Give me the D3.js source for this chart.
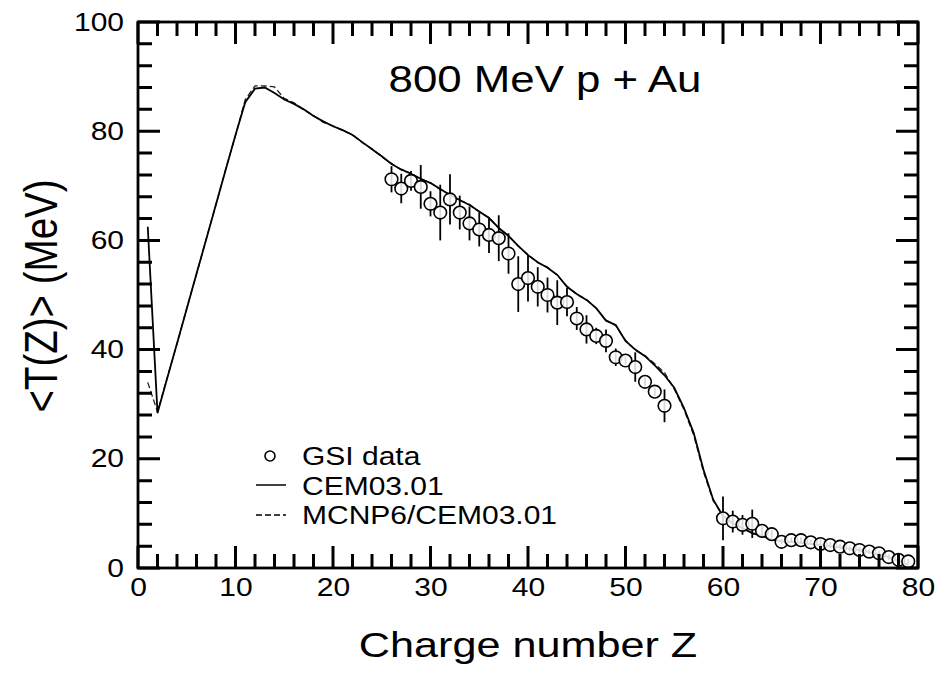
<!DOCTYPE html>
<html><head><meta charset="utf-8">
<script src="https://cdn.jsdelivr.net/npm/d3@7"></script>
</head>
<body style="margin:0;background:#fff">
<svg id="chart" width="950" height="676"></svg>
<script>
// ---- data ----
const gsiZ = [26,27,28,29,30,31,32,33,34,35,36,37,38,39,40,41,42,43,44,45,46,47,48,49,50,51,52,53,54,
              60,61,62,63,64,65,66,67,68,69,70,71,72,73,74,75,76,77,78,79];
const gsiT = [71.2,69.5,70.9,69.8,66.7,65.1,67.5,65.1,63.1,62.0,61.0,60.4,57.6,52.0,53.1,51.5,50.0,48.6,48.7,45.7,43.7,42.5,41.6,38.6,38.0,36.8,34.1,32.3,29.7,
              9.1,8.5,7.9,8.1,6.8,6.2,4.8,5.1,5.1,4.7,4.4,4.2,3.9,3.6,3.3,3.0,2.7,2.0,1.5,1.2];
const gsiErr = [2.4,2.7,1.8,4.0,2.3,5.1,4.6,3.1,3.1,3.1,3.3,4.2,3.7,5.1,4.3,3.6,3.2,4.1,2.6,2.1,2.6,1.5,2.1,1.6,0.8,2.7,0.8,0.8,3.0,
              4.0,2.0,1.8,2.6,0.8,0.8,0.5,0.5,0.6,0.5,0.8,0.5,0.5,0.5,0.5,0.5,0.5,0.5,0.5,0.5];

const modelZ = [1,2,3,4,5,6,7,8,9,10,11,12,13,14,15,16,17,18,19,20,21,22,23,24,25,26,27,28,29,30,
                31,32,33,34,35,36,37,38,39,40,41,42,43,44,45,46,47,48,49,50,51,52,53,54,55,56,57,58,59,60,
                61,62,63,64,65,66,67,68,69,70,71,72,73,74,75,76,77,78,79];
const cemT = [62.5,28.4,34.8,41.1,47.5,53.9,60.2,66.6,73.0,79.3,85.3,87.8,88.0,87.0,85.8,85.0,84.0,82.8,81.8,80.9,80.2,79.3,78.0,76.7,75.4,74.0,73.0,72.2,71.3,70.5,
              69.4,68.3,67.4,66.5,65.3,64.1,62.3,60.8,59.0,57.3,56.0,55.0,53.7,51.5,50.2,49.1,47.6,45.3,44.5,41.6,40.0,38.8,37.1,35.3,33.0,29.3,24.7,18.0,12.5,9.5,
              8.2,7.3,6.4,5.9,5.2,4.9,4.8,4.6,4.4,4.2,4.0,3.8,3.5,3.3,2.9,2.5,2.0,1.3,0.6];
const mcnpT = [34.0,28.6,34.9,41.0,47.6,53.8,60.3,66.5,73.1,79.2,85.8,88.3,88.3,88.1,86.0,85.2,83.9,82.9,81.6,81.0,80.1,79.4,77.9,76.8,75.3,74.1,72.9,72.3,71.2,70.6,
               69.3,68.4,67.3,66.6,65.2,64.2,62.2,60.9,58.9,57.4,55.9,55.1,53.6,51.6,50.1,49.2,47.5,45.4,44.4,41.7,39.9,38.9,37.4,35.8,32.8,29.0,24.3,17.6,12.3,9.6,
               8.1,7.4,6.3,6.0,5.1,5.0,4.7,4.7,4.3,4.2,4.0,3.7,3.5,3.2,2.9,2.4,2.0,1.2,0.6];

const xTickLabels = [0,10,20,30,40,50,60,70,80];
const yTickLabels = [0,20,40,60,80,100];
const title = "800 MeV p + Au";
const xTitle = "Charge number Z";
const yTitle = "<T(Z)> (MeV)";
const legendLabels = ["GSI data","CEM03.01","MCNP6/CEM03.01"];

// ---- layout ----
const FONT = "Liberation Sans, Arial, sans-serif";
const svg = d3.select("#chart");
const L=138, R=918, TOP=22, BOT=568;
const x = d3.scaleLinear().domain([0,80]).range([L,R]);
const y = d3.scaleLinear().domain([0,100]).range([BOT,TOP]);
const SX = 1.2;
const majLen=22, minLen=14;

// ---- tick labels ----
const xAxis = svg.append("g").attr("transform",`translate(0,${BOT})`)
  .call(d3.axisBottom(x).tickValues(xTickLabels).tickSize(0).tickPadding(10));
const yAxis = svg.append("g").attr("transform",`translate(${L},0)`)
  .call(d3.axisLeft(y).tickValues(yTickLabels).tickSize(0).tickPadding(14));
[xAxis,yAxis].forEach(a=>{a.select(".domain").remove();
  a.selectAll(".tick line").remove();
  a.selectAll("text").attr("font-size",25).attr("font-family",FONT).attr("fill","#000");});
xAxis.selectAll(".tick text").attr("transform",`scale(${SX},1)`).attr("x",0);
yAxis.selectAll(".tick text").each(function(){
  const t=d3.select(this); const xx=+t.attr("x");
  t.attr("x",xx/SX).attr("transform",`scale(${SX},1)`);
});

// ---- curves ----
const line = d3.line().x(d=>x(d[0])).y(d=>y(d[1]));
svg.append("path").datum(modelZ.map((z,i)=>[z,mcnpT[i]])).attr("d",line)
  .attr("fill","none").attr("stroke","#222").attr("stroke-width",1.3).attr("stroke-dasharray","6,3");
svg.append("path").datum(modelZ.map((z,i)=>[z,cemT[i]])).attr("d",line)
  .attr("fill","none").attr("stroke","#000").attr("stroke-width",1.8);

// ---- GSI data ----
const pts = gsiZ.map((z,i)=>({z,t:gsiT[i],e:gsiErr[i]}));
svg.selectAll("line.err").data(pts).enter().append("line").attr("class","err")
  .attr("x1",d=>x(d.z)).attr("x2",d=>x(d.z)).attr("y1",d=>y(d.t-d.e)).attr("y2",d=>y(d.t+d.e))
  .attr("stroke","#000").attr("stroke-width",1.8);
svg.selectAll("circle.pt").data(pts).enter().append("circle").attr("class","pt")
  .attr("cx",d=>x(d.z)).attr("cy",d=>y(d.t)).attr("r",6.3)
  .attr("fill","#fff").attr("fill-opacity",0.85).attr("stroke","#000").attr("stroke-width",1.6);

// ---- titles ----
svg.append("text").attr("transform",`translate(545,92) scale(${SX},1)`).attr("text-anchor","middle")
  .attr("font-family",FONT).attr("font-size",36.5).text(title);
svg.append("text").attr("transform",`translate(528,657) scale(${SX},1)`).attr("text-anchor","middle")
  .attr("font-family",FONT).attr("font-size",36).text(xTitle);
svg.append("text").attr("transform",`translate(57,296) rotate(-90) scale(1,${SX})`).attr("text-anchor","middle")
  .attr("font-family",FONT).attr("font-size",38.5).text(yTitle);

// ---- legend ----
const lg = svg.append("g");
lg.append("circle").attr("cx",270).attr("cy",456).attr("r",5).attr("fill","#fff").attr("stroke","#000").attr("stroke-width",1.6);
lg.append("line").attr("x1",256).attr("x2",286).attr("y1",485).attr("y2",485).attr("stroke","#000").attr("stroke-width",1.5);
lg.append("line").attr("x1",256).attr("x2",286).attr("y1",515).attr("y2",515).attr("stroke","#000").attr("stroke-width",1.3).attr("stroke-dasharray","6,3");
legendLabels.forEach((s,i)=>{
  lg.append("text").attr("transform",`translate(302,${465+i*29.5}) scale(${SX},1)`)
    .attr("font-family",FONT).attr("font-size",25).text(s);
});

// ---- tick marks, one path per side ----
const xMinor = d3.range(0,81,2), yMinor = d3.range(0,101,4);
function sidePath(side){
  const p = d3.path();
  if(side==="b"||side==="t") xMinor.forEach(v=>{
    const len = v%10===0?majLen:minLen, px = x(v);
    if(side==="b"){p.moveTo(px,BOT); p.lineTo(px,BOT-len);} else {p.moveTo(px,TOP); p.lineTo(px,TOP+len);}
  });
  else yMinor.forEach(v=>{
    const len = v%20===0?majLen:minLen, py = y(v);
    if(side==="l"){p.moveTo(L,py); p.lineTo(L+len,py);} else {p.moveTo(R,py); p.lineTo(R-len,py);}
  });
  return p.toString();
}
svg.append("path").attr("d",sidePath("b")).attr("fill","none").attr("stroke","#000").attr("stroke-width",3);
svg.append("path").attr("d",sidePath("t")).attr("fill","none").attr("stroke","#000").attr("stroke-width",3);
svg.append("path").attr("d",sidePath("l")).attr("fill","none").attr("stroke","#000").attr("stroke-width",3);
svg.append("path").attr("d",sidePath("r")).attr("fill","none").attr("stroke","#000").attr("stroke-width",3);

// frame
svg.append("rect").attr("x",L).attr("y",TOP).attr("width",R-L).attr("height",BOT-TOP)
  .attr("fill","none").attr("stroke","#000").attr("stroke-width",2.8);
</script>
</body></html>
